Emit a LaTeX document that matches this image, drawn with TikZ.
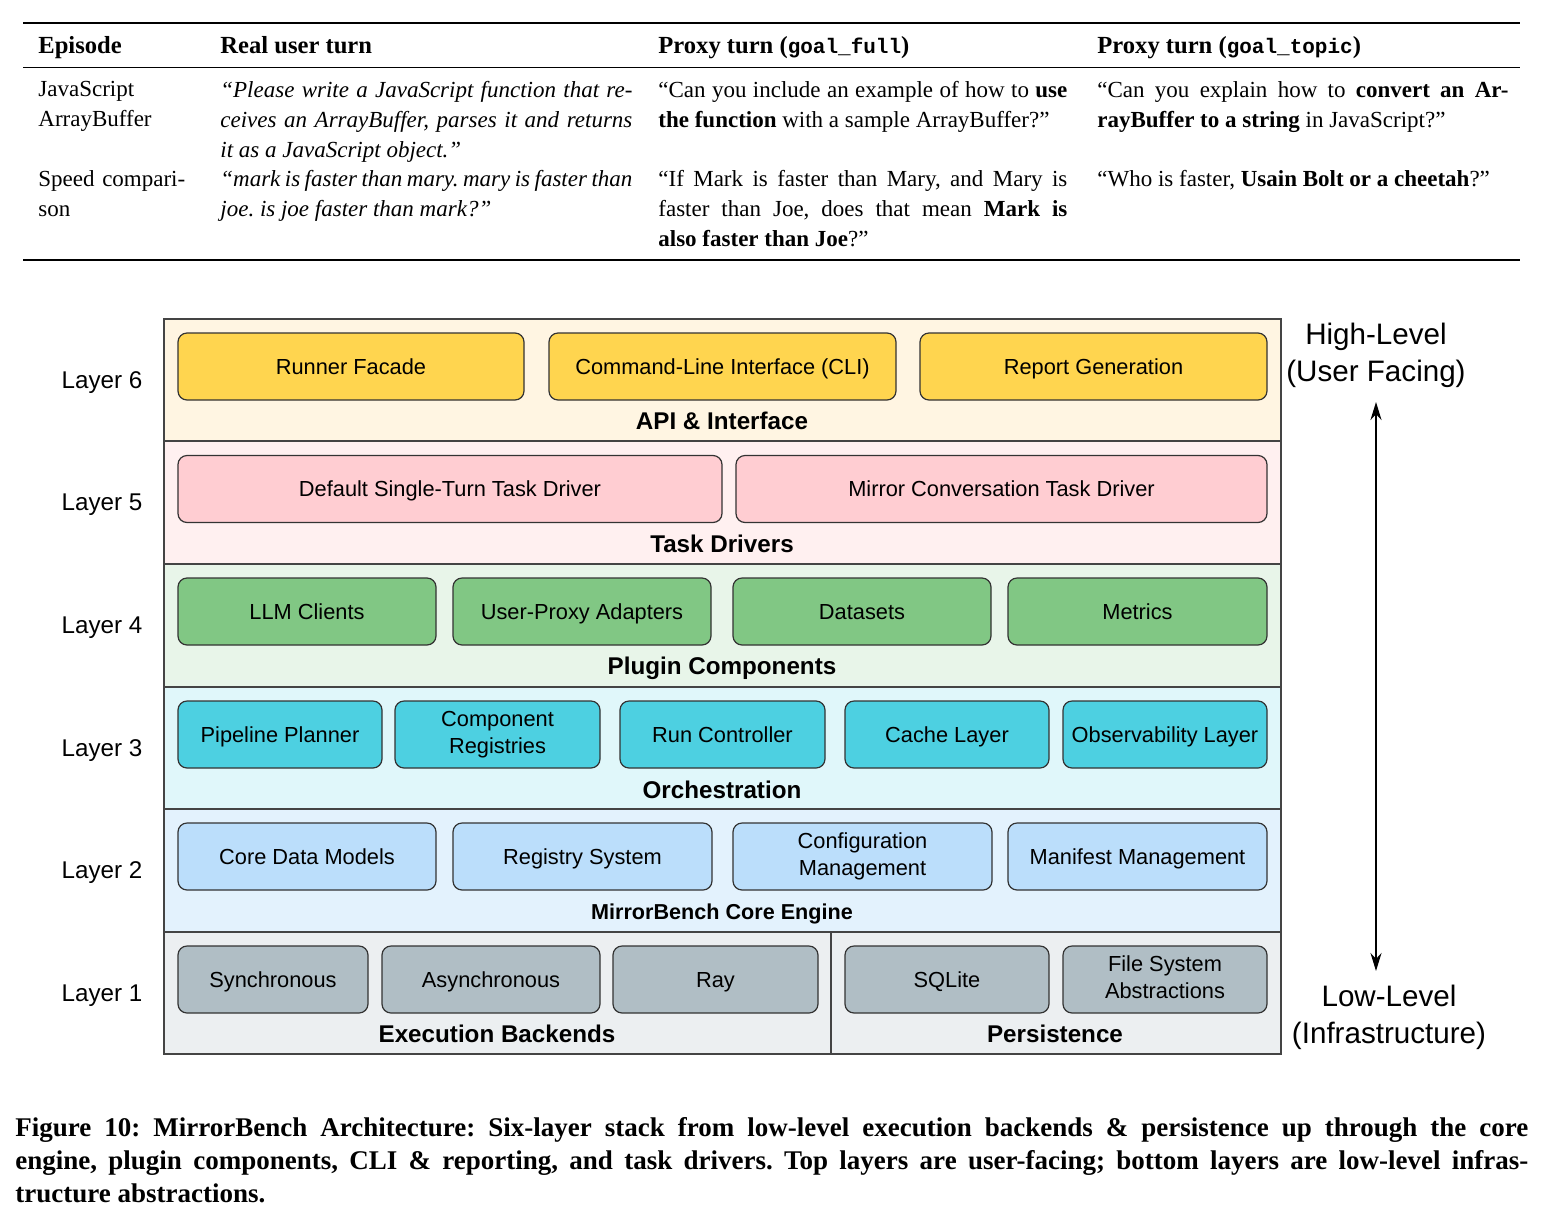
\documentclass[tikz,border=0pt]{standalone}
\usepackage{fontspec}
\setmainfont{Liberation Serif}
\setsansfont{Liberation Sans}
\setmonofont{Liberation Mono}
\usetikzlibrary{arrows.meta,positioning}
\frenchspacing
\definecolor{boxline}{HTML}{333333}
\definecolor{bandline}{HTML}{444444}
\definecolor{apiband}{HTML}{FFF5E2}
\definecolor{apibox}{HTML}{FFD54F}
\definecolor{taskband}{HTML}{FFF0F0}
\definecolor{taskbox}{HTML}{FFCDD2}
\definecolor{plugband}{HTML}{E8F5E9}
\definecolor{plugbox}{HTML}{81C784}
\definecolor{orchband}{HTML}{E0F7FA}
\definecolor{orchbox}{HTML}{4DD0E1}
\definecolor{coreband}{HTML}{E3F2FD}
\definecolor{corebox}{HTML}{BBDEFB}
\definecolor{baseband}{HTML}{ECEFF1}
\definecolor{basebox}{HTML}{B0BEC5}
\newcommand{\code}[1]{{\ttfamily\fontsize{10.5}{15}\selectfont #1}}
\newcommand{\topstrut}{\rule{0pt}{10.2pt}}
\newcommand{\botstrut}{\rule[-2.4pt]{0pt}{2.4pt}}

\begin{document}
\begin{tikzpicture}[x=0.5pt, y=-0.5pt,
    comp/.style = {draw=boxline, line width=0.6pt, rounded corners=4.5pt, minimum height=33.5pt, inner sep=1pt, align=center, font=\sffamily\fontsize{10.9}{13.5}\selectfont, execute at begin node=\topstrut, execute at end node=\botstrut},
    band/.style = {draw=bandline, line width=1pt},
    title/.style = {anchor=base, inner sep=0pt, font=\sffamily\bfseries\fontsize{12.1}{14}\selectfont},
    layerlbl/.style = {anchor=base, inner sep=0pt, font=\sffamily\fontsize{12.1}{14}\selectfont},
    level/.style = {align=center, inner sep=0pt, font=\sffamily\fontsize{14.8}{18.5}\selectfont},
    head/.style = {anchor=base west, inner sep=0pt, font=\bfseries\fontsize{12.3}{15}\selectfont},
    cell/.style = {anchor=north west, inner sep=0pt, align=justify, font=\fontsize{11.5}{15}\selectfont}]
  \useasboundingbox (0,0) rectangle (1549,1217);

  % table
  \draw[line width=1.2pt] (23,23) -- (1520,23);
  \draw[line width=0.5pt] (23,67) -- (1520,67);
  \draw[line width=1.2pt] (23,260) -- (1520,260);
  \node[head] (hep) at (38,53) {Episode};
  \node[head] (hreal) at (220,53) {Real user turn};
  \node[head] (hfull) at (658,53) {Proxy turn (\code{goal\_full})};
  \node[head] (htopic) at (1097,53) {Proxy turn (\code{goal\_topic})};

  \node[cell, text width=85pt, align=left] (ep1) at (38,81) {JavaScript\\ArrayBuffer};
  \node[cell, text width=206pt] (real1) at (220,81) {\itshape “Please write a JavaScript function that re-\linebreak ceives an ArrayBuffer, parses it and returns\linebreak it as a JavaScript object.”};
  \node[cell, text width=204.5pt] (full1) at (658,81) {“Can you include an example of how to \textbf{use}\linebreak \textbf{the function} with a sample ArrayBuffer?”};
  \node[cell, text width=205.5pt] (topic1) at (1097,81) {“Can you explain how to \textbf{convert an Ar-}\linebreak \textbf{rayBuffer to a string} in JavaScript?”};

  \node[cell, text width=85pt, align=left] (ep2) at (38,170) {Speed compari-\\son};
  \node[cell, text width=206pt] (real2) at (220,170) {\itshape “mark is faster than mary. mary is faster than\linebreak joe. is joe faster than mark?”};
  \node[cell, text width=204.5pt] (full2) at (658,170) {“If Mark is faster than Mary, and Mary is\linebreak faster than Joe, does that mean \textbf{Mark is}\linebreak \textbf{also faster than Joe}?”};
  \node[cell, text width=205.5pt] (topic2) at (1097,170) {“Who is faster, \textbf{Usain Bolt or a cheetah}?”};

  % layer bands
  \draw[band, fill=apiband] (164,319) rectangle (1281,441);
  \draw[band, fill=taskband] (164,441) rectangle (1281,564);
  \draw[band, fill=plugband] (164,564) rectangle (1281,687);
  \draw[band, fill=orchband] (164,687) rectangle (1281,809);
  \draw[band, fill=coreband] (164,809) rectangle (1281,932);
  \draw[band, fill=baseband] (164,932) rectangle (1281,1054);
  \draw[band] (831,932) -- (831,1054);

  % layer 6
  \node[comp, fill=apibox, minimum width=173pt] (runner) at (351,366.5) {Runner Facade};
  \node[comp, fill=apibox, minimum width=173.5pt] (cli) at (722.5,366.5) {Command-Line Interface (CLI)};
  \node[comp, fill=apibox, minimum width=173.5pt] (report) at (1093.5,366.5) {Report Generation};
  \node[title] (apititle) at (722,429) {API \& Interface};

  % layer 5
  \node[comp, fill=taskbox, minimum width=272pt] (single) at (450,489) {Default Single-Turn Task Driver};
  \node[comp, fill=taskbox, minimum width=265.5pt] (mirror) at (1001.5,489) {Mirror Conversation Task Driver};
  \node[title] (tasktitle) at (722,552) {Task Drivers};

  % layer 4
  \node[comp, fill=plugbox, minimum width=129pt] (llm) at (307,611.5) {LLM Clients};
  \node[comp, fill=plugbox, minimum width=129pt] (proxy) at (582,611.5) {User-Proxy Adapters};
  \node[comp, fill=plugbox, minimum width=129pt] (data) at (862,611.5) {Datasets};
  \node[comp, fill=plugbox, minimum width=129.5pt] (metrics) at (1137.5,611.5) {Metrics};
  \node[title] (plugtitle) at (722,674) {Plugin Components};

  % layer 3
  \node[comp, fill=orchbox, minimum width=102pt] (planner) at (280,734.5) {Pipeline Planner};
  \node[comp, fill=orchbox, minimum width=102.5pt] (registries) at (497.5,734.5) {Component\\Registries};
  \node[comp, fill=orchbox, minimum width=102.5pt] (runctl) at (722.5,734.5) {Run Controller};
  \node[comp, fill=orchbox, minimum width=102pt] (cache) at (947,734.5) {Cache Layer};
  \node[comp, fill=orchbox, minimum width=102pt] (observ) at (1165,734.5) {Observability Layer};
  \node[title] (orchtitle) at (722,798) {Orchestration};

  % layer 2
  \node[comp, fill=corebox, minimum width=129pt] (models) at (307,856.5) {Core Data Models};
  \node[comp, fill=corebox, minimum width=129.5pt] (regsys) at (582.5,856.5) {Registry System};
  \node[comp, fill=corebox, minimum width=129.5pt] (config) at (862.5,856.5) {Configuration\\Management};
  \node[comp, fill=corebox, minimum width=129.5pt] (manifest) at (1137.5,856.5) {Manifest Management};
  \node[title, font=\sffamily\bfseries\fontsize{10.8}{13}\selectfont] (coretitle) at (722,919) {MirrorBench Core Engine};

  % layer 1
  \node[comp, fill=basebox, minimum width=95pt] (sync) at (273,979.5) {Synchronous};
  \node[comp, fill=basebox, minimum width=109pt] (async) at (491,979.5) {Asynchronous};
  \node[comp, fill=basebox, minimum width=102.5pt] (ray) at (715.5,979.5) {Ray};
  \node[comp, fill=basebox, minimum width=102pt] (sqlite) at (947,979.5) {SQLite};
  \node[comp, fill=basebox, minimum width=102pt] (fs) at (1165,979.5) {File System\\Abstractions};
  \node[title] (exectitle) at (497,1042) {Execution Backends};
  \node[title] (persisttitle) at (1055,1042) {Persistence};

  % layer labels
  \node[layerlbl] (l6) at (102,388.5) {Layer 6};
  \node[layerlbl] (l5) at (102,510.5) {Layer 5};
  \node[layerlbl] (l4) at (102,633.5) {Layer 4};
  \node[layerlbl] (l3) at (102,756.5) {Layer 3};
  \node[layerlbl] (l2) at (102,878.5) {Layer 2};
  \node[layerlbl] (l1) at (102,1001.5) {Layer 1};

  % level arrow
  \node[level] (high) at (1376,355) {High-Level\\(User Facing)};
  \node[level] (low) at (1389,1017) {Low-Level\\(Infrastructure)};
  \coordinate (atop) at (1376,402);
  \coordinate (abot) at (1376,971);
  \draw[{Stealth[length=9pt,width=5.5pt]}-{Stealth[length=9pt,width=5.5pt]}, line width=1pt] (atop) -- (abot);

  % caption
  \node[anchor=north west, inner sep=0pt, text width=756.5pt, align=justify, font=\bfseries\fontsize{13.5}{16.5}\selectfont] (caption) at (15,1117)
    {Figure 10: MirrorBench Architecture: Six-layer stack from low-level execution backends \& persistence up through the core\linebreak engine, plugin components, CLI \& reporting, and task drivers. Top layers are user-facing; bottom layers are low-level infras-\linebreak tructure abstractions.};
\end{tikzpicture}
\end{document}
